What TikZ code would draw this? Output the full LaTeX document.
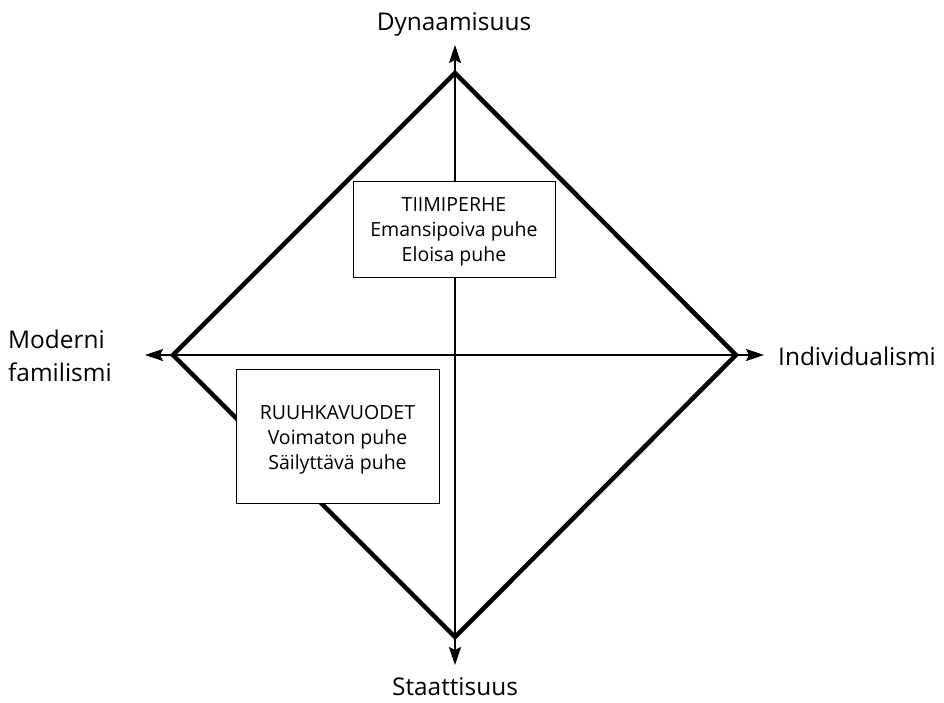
\documentclass[tikz,border=0pt]{standalone}
\usepackage{fontspec}
\setmainfont{Open Sans}
\usetikzlibrary{arrows.meta}
\begin{document}
\begin{tikzpicture}[x=1pt,y=-1pt,
  axis/.style={line width=2pt,-{Stealth[length=18pt,width=12pt,inset=3pt]}},
  diam/.style={line width=4.5pt,line join=miter},
  box/.style={draw,line width=1pt,fill=white,inner sep=0pt},
  boxtext/.style={align=center,inner sep=0pt,font=\fontsize{19.5}{25}\selectfont},
  lab/.style={font=\fontsize{24.4}{33}\selectfont,inner sep=0pt}]
\useasboundingbox (0,0) rectangle (944,702);
% diamond vertices
\coordinate (T) at (455,73);
\coordinate (B) at (455,637);
\coordinate (L) at (173,355);
\coordinate (R) at (736,355);
% axis ends
\coordinate (Ttip) at (455,45);
\coordinate (Btip) at (455,665);
\coordinate (Ltip) at (145,355);
\coordinate (Rtip) at (764,355);
\draw[axis] (B) -- (Ttip);
\draw[axis] (T) -- (Btip);
\draw[axis] (R) -- (Ltip);
\draw[axis] (L) -- (Rtip);
\draw[diam] (T) -- (R) -- (B) -- (L) -- cycle;
% boxes
\node[box,minimum width=202pt,minimum height=96pt] (tiimi) at (454,229) {};
\node[boxtext] (tiimiT) at (454,232)
  {TIIMIPERHE\\Emansipoiva puhe\\Eloisa puhe};
\node[box,minimum width=203pt,minimum height=134pt] (ruuhka) at (337.5,436) {};
\node[boxtext] (ruuhkaT) at (337.5,439.5)
  {RUUHKAVUODET\\Voimaton puhe\\Säilyttävä puhe};
% labels
\node[lab,anchor=base] (dyn) at (454,30) {Dynaamisuus};
\node[lab,anchor=base] (sta) at (455,695) {Staattisuus};
\node[lab,anchor=base west] (ind) at (778,365) {Individualismi};
\node[lab,anchor=base west] (mod) at (8,348) {Moderni};
\node[lab,anchor=base west] (fam) at (8,381) {familismi};
\end{tikzpicture}
\end{document}
